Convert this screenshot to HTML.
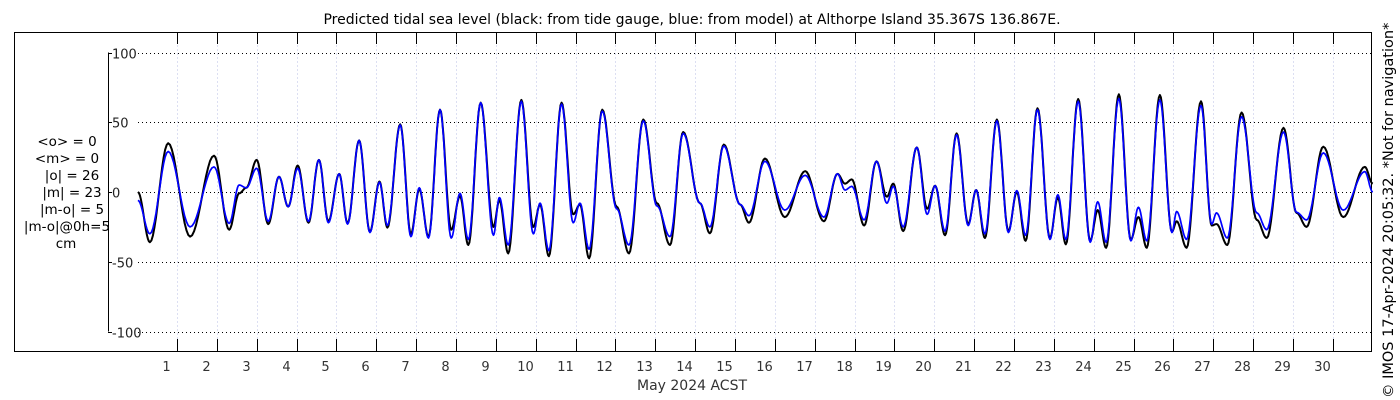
<!DOCTYPE html>
<html><head><meta charset="utf-8"><style>
html,body{margin:0;padding:0;background:#fff;width:1400px;height:400px;overflow:hidden}
svg{display:block;font-family:"DejaVu Sans","Liberation Sans",sans-serif}
</style></head><body>
<svg id="chart" width="1400" height="400" viewBox="0 0 1400 400">
<text x="692" y="24" font-size="14" text-anchor="middle" fill="#000">Predicted tidal sea level (black: from tide gauge, blue: from model) at Althorpe Island 35.367S 136.867E.</text>
<rect x="14.5" y="32.5" width="1357" height="319" fill="none" stroke="#000" stroke-width="1"/>
<g id="grid"></g>
<g id="axes"></g>
<g id="series"></g>
<g font-size="13.5" text-anchor="middle" fill="#000">
<text x="67" y="146">&lt;o&gt; = 0</text>
<text x="67" y="163">&lt;m&gt; = 0</text>
<text x="72" y="180">|o| = 26</text>
<text x="72" y="197">|m| = 23</text>
<text x="72" y="214">|m-o| = 5</text>
<text x="67" y="231">|m-o|@0h=5</text>
<text x="66" y="248">cm</text>
</g>
<text x="692" y="390" font-size="14" text-anchor="middle" fill="#333">May 2024 ACST</text>
<text transform="translate(1393,398) rotate(-90)" font-size="14.5" fill="#000">© IMOS 17-Apr-2024 20:05:32. *Not for navigation*</text>
</svg>
<script>
const dayTicks=[1,2,3,4,5,6,7,8,9,10,11,12,13,14,15,16,17,18,19,20,21,22,23,24,25,26,27,28,29,30];
const yTicks=[100,50,0,-50,-100];
const times=[0.02,0.32,0.78,1.33,1.93,2.31,2.56,2.74,3.00,3.29,3.56,3.79,4.03,4.30,4.56,4.80,5.07,5.28,5.57,5.84,6.08,6.28,6.60,6.87,7.08,7.31,7.60,7.88,8.10,8.31,8.62,8.94,9.09,9.31,9.64,9.94,10.11,10.33,10.65,10.94,11.11,11.34,11.67,12.03,12.34,12.70,13.04,13.37,13.70,14.12,14.37,14.72,15.13,15.35,15.75,16.25,16.76,17.23,17.57,17.76,17.93,18.24,18.55,18.81,18.97,19.22,19.56,19.82,20.02,20.27,20.56,20.85,21.05,21.27,21.57,21.86,22.07,22.29,22.59,22.90,23.10,23.30,23.61,23.91,24.10,24.31,24.63,24.93,25.12,25.33,25.66,25.96,26.08,26.33,26.69,26.96,27.08,27.35,27.71,28.09,28.34,28.76,29.09,29.34,29.76,30.26,30.80,31.00];
const observed=[0,-36,35,-32,26,-27,-1,3,23,-23,11,-10.5,19,-22,23,-21,13,-22.5,37,-28.5,7.5,-25.5,48.5,-30,2,-32,59,-27,-3,-38,64,-25,-6,-44,66,-25,-9,-46,64,-16,-9,-47.5,59,-10.5,-44,52,-8,-38,43,-8,-29.6,34,-9,-22,24,-18,15,-21,13,6,9,-24,22,-3.4,6,-28,32,-12,4.5,-31,42,-23,1.4,-33,52,-28,0,-35,60,-33,-4,-37.5,66.7,-35,-13,-40,70,-34,-18,-40,69.5,-28.5,-21,-40,65,-24,-23,-38,57,-20,-33,46,-15,-25,32.5,-18,18,6];
const model=[-6,-30,29,-25,18,-22.5,5,3,17,-21,11,-10.5,17,-21,23,-22,13,-23,37,-29,7,-24,48,-32,3,-33,59,-33,-1,-34,64,-31,-4,-38,65,-30,-8,-42,63,-22,-8,-41,58,-12,-38,51,-10,-32,42,-8,-25,33,-9,-17,22,-13,12,-18,13,1.4,4,-20,22,-8,4,-25,32,-16,4.5,-28,41,-24,1.4,-30,51,-29,1,-31,59,-34,-2,-34,65,-36,-7,-36,67,-35,-11,-35,66,-29,-14,-34,62,-23,-15,-33,54,-15,-27,43,-14.6,-20,28,-13,14.6,0];

const NS='http://www.w3.org/2000/svg';
const X0=137.1, DX=39.86, Y0=192, SY=1.395;
function xs(t){return X0+DX*t;}
function ys(v){return Y0-SY*v;}
function mk(tag,attrs,parent){const e=document.createElementNS(NS,tag);for(const k in attrs)e.setAttribute(k,attrs[k]);parent.appendChild(e);return e;}
const grid=document.getElementById('grid'),axes=document.getElementById('axes'),series=document.getElementById('series');

dayTicks.forEach(d=>{
  const x=Math.round(xs(d))+0.5;
  const g=mk('line',{x1:x,x2:x,y1:33,y2:351,stroke:'#dcdff2','stroke-width':1,'stroke-dasharray':'2,2'},grid);
  
  
  const t1=mk('line',{x1:x,x2:x,y1:32,y2:44,stroke:'#000','stroke-width':1},axes);
  
  
  const t2=mk('line',{x1:x,x2:x,y1:339,y2:351,stroke:'#000','stroke-width':1},axes);
  
  
  const lb=mk('text',{x:x-11,y:371,'font-size':13,'text-anchor':'middle',fill:'#333'},axes);
  lb.textContent=String(d);
  
  
});
const yl=mk('line',{x1:108.5,x2:108.5,y1:ys(100),y2:ys(-100),stroke:'#000','stroke-width':1},axes);


yTicks.forEach(v=>{
  const y=Math.round(ys(v))+0.5;
  const gl=mk('line',{x1:138,x2:1371,y1:y,y2:y,stroke:'#000','stroke-width':1,'stroke-dasharray':'1,3'},grid);
  
  
  const tk=mk('line',{x1:108,x2:112,y1:y,y2:y,stroke:'#000','stroke-width':1},axes);
  
  
  const lb=mk('text',{x:112,y:y+5,'font-size':13,fill:'#222'},axes);
  lb.textContent=String(v);
  
  
});
function pathFor(vals){
  let d='M'+xs(times[0]).toFixed(1)+','+ys(vals[0]).toFixed(1);
  for(let i=1;i<times.length;i++){
    const t0=times[i-1],t1=times[i],v0=vals[i-1],v1=vals[i];
    for(let k=1;k<=12;k++){
      const f=k/12, w=(1-Math.cos(Math.PI*f))/2;
      d+=' L'+xs(t0+(t1-t0)*f).toFixed(1)+','+ys(v0+(v1-v0)*w).toFixed(1);
    }
  }
  return d;
}
const po=mk('path',{d:pathFor(observed),fill:'none',stroke:'#000','stroke-width':2,'stroke-linejoin':'round'},series);


const pm=mk('path',{d:pathFor(model),fill:'none',stroke:'#0000ff','stroke-width':1.7,'stroke-linejoin':'round'},series);


</script>
</body></html>
